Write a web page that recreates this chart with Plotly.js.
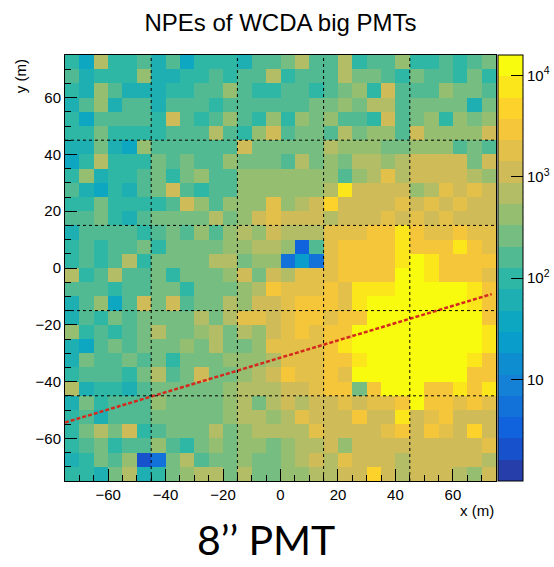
<!DOCTYPE html>
<html>
<head>
<meta charset="utf-8">
<script src="https://cdn.plot.ly/plotly-3.0.1.min.js"></script>
<style>html,body{margin:0;padding:0;background:#fff;}#chart{width:554px;height:567px;}</style>
</head>
<body>
<div id="chart"></div>
<script>
// Bin centres (m)
const xCenters = [-72.5,-67.5,-62.5,-57.5,-52.5,-47.5,-42.5,-37.5,-32.5,-27.5,-22.5,-17.5,-12.5,-7.5,-2.5,
                  2.5,7.5,12.5,17.5,22.5,27.5,32.5,37.5,42.5,47.5,52.5,57.5,62.5,67.5,72.5];
const yCenters = [72.5,67.5,62.5,57.5,52.5,47.5,42.5,37.5,32.5,27.5,22.5,17.5,12.5,7.5,2.5,
                  -2.5,-7.5,-12.5,-17.5,-22.5,-27.5,-32.5,-37.5,-42.5,-47.5,-52.5,-57.5,-62.5,-67.5,-72.5];

// NPE per cell, one row per y bin (top to bottom), 30 x bins each
const row00 = [100,30,700,100,100,180,60,180,30,100,100,100,60,180,180, 270,700,180,180,700,100,180,180,450,100,100,180,100,180,270];
const row01 = [180,60,100,100,100,450,60,60,100,100,180,100,180,180,700, 100,180,180,180,700,270,270,180,100,270,180,180,100,270,100];
const row02 = [100,60,450,180,60,60,60,100,100,180,180,450,180,100,100, 180,180,100,180,270,450,100,1000,180,180,180,450,270,270,180];
const row03 = [60,180,450,60,180,180,60,180,180,180,100,180,180,180,180, 180,180,270,270,450,270,700,700,180,270,270,270,270,60,270];
const row04 = [100,30,180,180,180,180,100,1000,180,100,180,450,180,100,450, 100,450,270,450,180,180,100,1000,180,270,450,100,450,270,450];
const row05 = [100,100,270,100,100,100,100,180,180,180,700,180,100,450,1100, 180,270,270,180,700,270,450,450,180,1000,450,450,450,450,1100];
const row06 = [60,60,270,60,30,450,180,180,180,180,180,180,1100,270,270, 270,270,270,600,450,450,450,270,270,450,450,450,180,270,180];
const row07 = [30,100,700,100,100,100,270,180,270,180,180,450,270,270,270, 180,700,270,450,270,700,700,450,700,1000,1100,1100,1100,270,1100];
const row08 = [100,450,60,100,100,180,270,100,270,450,180,180,450,450,450, 450,450,450,450,180,450,700,1500,700,1100,1100,1100,1100,700,450];
const row09 = [180,60,30,100,60,180,270,1000,180,100,180,180,450,450,450, 450,450,450,700,8000,1100,1100,1100,1100,450,700,1800,1100,1800,1100];
const row10 = [100,100,270,100,100,100,100,180,1000,450,180,450,450,450,1500, 450,600,1100,5000,1100,1100,1100,1100,1800,1100,1800,1100,1800,1100,1100];
const row11 = [180,180,270,100,60,180,270,270,270,270,700,270,450,1100,1500, 1100,1100,1100,700,1100,1100,1100,1800,1100,1800,1100,1800,1100,1100,1100];
const row12 = [60,180,180,180,180,100,180,270,180,450,180,450,700,450,1100, 700,600,700,1800,1800,1800,3300,3300,8000,3300,1800,1800,3300,1800,1800];
const row13 = [100,180,100,180,180,270,100,270,270,270,270,450,450,650,700, 450,3,180,1800,3300,3300,3300,3300,8000,3300,3300,3300,8000,3300,1800];
const row14 = [100,180,100,180,650,100,270,270,270,270,700,700,270,450,450, 5,20,6,1800,3300,3300,3300,3300,8000,13000,8000,3300,3300,3300,3300];
const row15 = [650,100,180,600,180,180,270,100,270,270,270,450,1100,270,1100, 700,1800,1800,1800,3300,3300,3300,3300,13000,10000,8000,3300,3300,3300,1800];
const row16 = [180,180,180,100,180,180,270,270,100,270,270,270,450,700,3300, 1800,1800,1800,3300,1800,8000,8000,8000,13000,13000,13000,13000,13000,8000,3300];
const row17 = [60,180,450,30,180,1000,270,1000,180,270,270,700,450,1100,1100, 1800,3300,3300,3300,1800,8000,13000,13000,13000,13000,13000,13000,13000,8000,3300];
const row18 = [60,180,100,270,180,270,270,270,270,700,270,700,1800,1800,1100, 1800,3300,3300,1800,3300,3300,13000,13000,13000,13000,13000,13000,13000,13000,3300];
const row19 = [450,100,180,100,180,270,700,270,270,450,700,270,700,450,1100, 1800,3300,1800,3300,3300,13000,13000,13000,13000,13000,13000,13000,13000,13000,8000];
const row20 = [60,30,180,270,180,270,270,270,450,270,700,270,270,450,1800, 1800,1800,1800,3300,8000,13000,13000,13000,13000,13000,13000,13000,13000,13000,8000];
const row21 = [60,270,180,180,270,180,270,100,270,270,270,450,450,450,600, 1800,1800,1800,3300,3300,8000,13000,13000,13000,13000,13000,13000,13000,8000,3300];
const row22 = [100,180,180,180,100,270,700,180,270,1000,270,270,450,700,1100, 3300,1800,1800,3300,1800,13000,13000,13000,13000,13000,13000,13000,13000,3300,3300];
const row23 = [700,60,100,100,60,180,270,270,270,270,270,450,700,700,700, 1100,1100,1800,3300,3300,270,3300,13000,13000,13000,3300,3300,8000,3300,8000];
const row24 = [60,270,100,180,180,180,450,270,270,270,270,450,700,270,700, 1100,700,1100,1100,1800,1100,1800,1800,3300,13000,3300,3300,1800,3300,1800];
const row25 = [100,180,60,180,180,180,270,270,270,270,270,450,700,700,450, 700,1800,1100,1100,1100,3300,1100,1100,8000,1100,1800,3300,1100,1100,1100];
const row26 = [100,270,700,270,1100,100,180,270,270,270,700,270,450,700,700, 700,700,1800,1100,1100,1100,1100,1800,3300,1100,3300,1800,1100,5000,1100];
const row27 = [100,180,270,100,180,180,450,180,100,270,450,270,450,450,270, 450,700,700,1100,450,1100,1100,1100,1100,1100,1100,1100,1100,1100,1800];
const row28 = [60,100,270,180,450,2,5,270,700,180,270,270,450,270,270, 450,700,1100,700,1800,1100,1100,1100,700,1100,1100,1100,1100,1100,700];
const row29 = [100,100,60,270,600,60,100,270,450,600,600,270,600,270,270, 450,450,700,700,1100,1100,5000,1100,700,1100,1100,1100,700,450,1100];

// Shower-axis projection (red dashed line)
const axisX = [-75, 73.5];
const axisY = [-54.4, -9.2];

// Pond boundaries (dotted grid)
const pondLines = [-45, -15, 15, 45];

// Ticks
const xTicks = [-60,-40,-20,0,20,40,60];
const yTicks = [-60,-40,-20,0,20,40,60];
const cbTickVals = [1,2,3,4];
const cbTickText = ['10','10<sup>2</sup>','10<sup>3</sup>','10<sup>4</sup>'];

const rows = [row00,row01,row02,row03,row04,row05,row06,row07,row08,row09,row10,row11,row12,row13,row14,
              row15,row16,row17,row18,row19,row20,row21,row22,row23,row24,row25,row26,row27,row28,row29];
const zLog = rows.map(r => r.map(v => Math.log10(v)));

// ROOT kBird palette, 20 contour bands
const bs = [0,0.125,0.25,0.375,0.5,0.625,0.75,0.875,1];
const br = [0.2082,0.0592,0.0780,0.0232,0.1802,0.5301,0.8186,0.9956,0.9764];
const bg = [0.1664,0.3599,0.5041,0.6419,0.7178,0.7492,0.7328,0.7862,0.9832];
const bb = [0.5293,0.8684,0.8385,0.7914,0.6425,0.4662,0.3499,0.1968,0.0539];
function bird(p){
  let i = 0; while (i < bs.length-2 && p > bs[i+1]) i++;
  const t = (p - bs[i])/(bs[i+1]-bs[i]);
  const c = a => Math.round(255*(a[i] + t*(a[i+1]-a[i])));
  return 'rgb(' + c(br) + ',' + c(bg) + ',' + c(bb) + ')';
}
const nb = 20, colorscale = [];
for (let k = 0; k < nb; k++) {
  const col = bird(Math.min(1,(k+0.99)/nb));
  colorscale.push([k/nb, col]); colorscale.push([(k+1)/nb, col]);
}
const zMin = 0, zMax = 4.2;

const font = 'Liberation Sans, Arial, Helvetica, sans-serif';

const heat = {
  type: 'heatmap', x: xCenters, y: yCenters, z: zLog,
  zmin: zMin, zmax: zMax, colorscale: colorscale, zsmooth: false,
  hoverinfo: 'skip',
  colorbar: {
    thickness: 25, thicknessmode: 'pixels', len: 1, lenmode: 'fraction',
    x: 1.005, xanchor: 'left', xpad: 0, y: 0.5, yanchor: 'middle', ypad: 0,
    outlinewidth: 1, outlinecolor: '#000',
    tickmode: 'array', tickvals: cbTickVals, ticktext: cbTickText,
    ticks: 'inside', ticklen: 12, tickcolor: '#000', tickwidth: 1,
    tickfont: {family: font, size: 15, color: '#000'}
  }
};
const line = {
  type: 'scatter', mode: 'lines', x: axisX, y: axisY, hoverinfo: 'skip',
  line: {color: '#d42a1e', width: 2.5, dash: '4px,2px'}, showlegend: false
};

const shapes = [];
pondLines.forEach(v => {
  shapes.push({type:'line', xref:'x', yref:'y', x0:v, x1:v, y0:-75, y1:75, line:{color:'#000', width:1, dash:'dot'}, layer:'above'});
  shapes.push({type:'line', xref:'x', yref:'y', y0:v, y1:v, x0:-75, x1:75, line:{color:'#000', width:1, dash:'dot'}, layer:'above'});
});
// colorbar minor ticks
const plotW = 554 - 65 - 58;
const cbRight = 1.005 + 25/plotW;
for (let d = 0; d <= 4; d++) for (let m = 2; m <= 9; m++) {
  const lv = d + Math.log10(m);
  if (lv >= zMax) continue;
  const yy = (lv - zMin)/(zMax - zMin);
  shapes.push({type:'line', xref:'paper', yref:'paper', x0:cbRight - 6/plotW, x1:cbRight, y0:yy, y1:yy, line:{color:'#000', width:1}});
}

const axisCommon = {
  range: [-75, 75], tickmode: 'array', ticks: 'inside', ticklen: 12, tickwidth: 1, tickcolor: '#000',
  showline: true, linecolor: '#000', linewidth: 1, mirror: true,
  showgrid: false, zeroline: false,
  tickfont: {family: font, size: 15, color: '#000'},
  minor: {dtick: 5, tick0: 0, ticks: 'inside', ticklen: 6, tickcolor: '#000', tickwidth: 1, showgrid: false}
};

const layout = {
  width: 554, height: 567,
  margin: {l: 65, r: 58, t: 55, b: 86, autoexpand: false},
  paper_bgcolor: '#fff', plot_bgcolor: '#fff',
  showlegend: false,
  title: {text: 'NPEs of WCDA big PMTs', x: 0.5, xref: 'paper', y: 1 - 23/567, yanchor: 'middle',
          font: {family: font, size: 24, color: '#000'}},
  xaxis: Object.assign({}, axisCommon, {tickvals: xTicks}),
  yaxis: Object.assign({}, axisCommon, {tickvals: yTicks}),
  shapes: shapes,
  annotations: [
    {text: 'y (m)', xref: 'paper', yref: 'paper', x: (20-65)/plotW, y: 0.995, xanchor: 'center', yanchor: 'top',
     textangle: -90, showarrow: false, font: {family: font, size: 15, color: '#000'}},
    {text: 'x (m)', xref: 'paper', yref: 'paper', x: 1, y: (481-511)/426, xanchor: 'right', yanchor: 'middle',
     showarrow: false, font: {family: font, size: 15, color: '#000'}},
    {text: '8’’ PMT', xref: 'paper', yref: 'paper', x: (266-65)/plotW, y: (481-566)/426, xanchor: 'center', yanchor: 'bottom',
     showarrow: false, font: {family: 'Lato, Open Sans, sans-serif', size: 41, color: '#000'}}
  ]
};

Plotly.newPlot('chart', [heat, line], layout, {displayModeBar: false, staticPlot: true});
</script>
</body>
</html>
